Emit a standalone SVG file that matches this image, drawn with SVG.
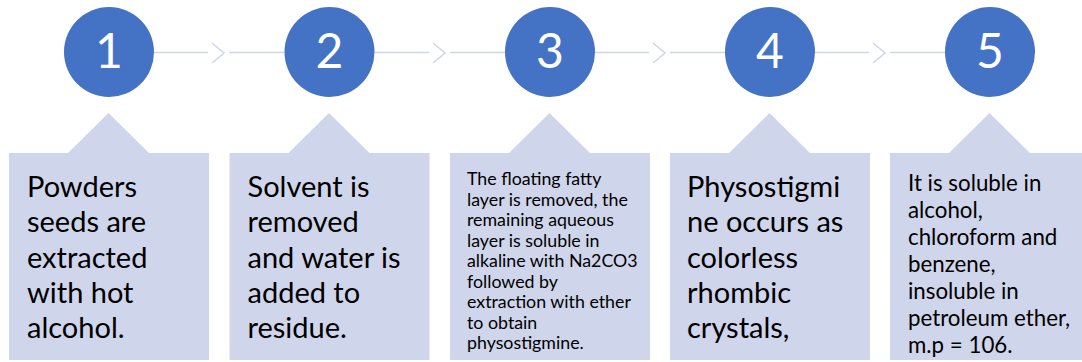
<svg xmlns="http://www.w3.org/2000/svg" width="1082" height="362" viewBox="0 0 1082 362">
  <style>
    .num { fill: #4472C4; }
    .digit { font-family: Lato, "Liberation Sans", sans-serif; font-size: 48px; fill: #ffffff; text-anchor: middle; }
    .card { fill: #CFD5EA; }
    .big { font-family: Lato, "Liberation Sans", sans-serif; font-size: 29px; fill: #000000; }
    .mid { font-family: Lato, "Liberation Sans", sans-serif; font-size: 22.3px; fill: #000000; }
    .small { font-family: Lato, "Liberation Sans", sans-serif; font-size: 17.8px; fill: #000000; }
    .link { stroke: #CFD5EA; stroke-width: 1.5; fill: none; }
  </style>
  <defs>
    <!-- callout card: pointer triangle on top of a 200-wide panel -->
    <path id="callout" d="M0,153 H59 L99.5,113 L140,153 H200 V360 H0 Z"/>
  </defs>

  <g id="connectors">
    <path class="link" d="M153.5,52.5 H208 M212,43 L224,53 L212,63 M229,52.5 H284.5"/>
    <path class="link" d="M374.5,52.5 H429 M433,43 L445,53 L433,63 M450,52.5 H505"/>
    <path class="link" d="M595,52.5 H649 M653,43 L665,53 L653,63 M670,52.5 H725"/>
    <path class="link" d="M815,52.5 H869 M873,43 L885,53 L873,63 M890,52.5 H945"/>
  </g>

  <g id="step1">
    <circle class="num" cx="109" cy="52" r="45"/>
    <text class="digit" x="109" y="68">1</text>
    <use href="#callout" class="card" x="9"/>
    <text class="big">
      <tspan x="27" y="197">Powders</tspan>
      <tspan x="27" y="232">seeds are</tspan>
      <tspan x="27" y="267.5">extracted</tspan>
      <tspan x="27" y="303">with hot</tspan>
      <tspan x="27" y="338">alcohol.</tspan>
    </text>
  </g>

  <g id="step2">
    <circle class="num" cx="329.5" cy="52" r="45"/>
    <text class="digit" x="329.5" y="68">2</text>
    <use href="#callout" class="card" x="229.5"/>
    <text class="big">
      <tspan x="247.5" y="197">Solvent is</tspan>
      <tspan x="247.5" y="232">removed</tspan>
      <tspan x="247.5" y="267.5">and water is</tspan>
      <tspan x="247.5" y="303">added to</tspan>
      <tspan x="247.5" y="338">residue.</tspan>
    </text>
  </g>

  <g id="step3">
    <circle class="num" cx="550" cy="52" r="45"/>
    <text class="digit" x="550" y="68">3</text>
    <use href="#callout" class="card" x="450"/>
    <text class="small">
      <tspan x="467" y="185">The floating fatty</tspan>
      <tspan x="467" y="205.5">layer is removed, the</tspan>
      <tspan x="467" y="226">remaining aqueous</tspan>
      <tspan x="467" y="246.5">layer is soluble in</tspan>
      <tspan x="467" y="267">alkaline with Na2CO3</tspan>
      <tspan x="467" y="287.5">followed by</tspan>
      <tspan x="467" y="308">extraction with ether</tspan>
      <tspan x="467" y="328.5">to obtain</tspan>
      <tspan x="467" y="349">physostigmine.</tspan>
    </text>
  </g>

  <g id="step4">
    <circle class="num" cx="770" cy="52" r="45"/>
    <text class="digit" x="770" y="68">4</text>
    <use href="#callout" class="card" x="670"/>
    <text class="big">
      <tspan x="687" y="197">Physostigmi</tspan>
      <tspan x="687" y="232">ne occurs as</tspan>
      <tspan x="687" y="267.5">colorless</tspan>
      <tspan x="687" y="303">rhombic</tspan>
      <tspan x="687" y="338">crystals,</tspan>
    </text>
  </g>

  <g id="step5">
    <circle class="num" cx="990" cy="52" r="45"/>
    <text class="digit" x="990" y="68">5</text>
    <use href="#callout" class="card" x="890"/>
    <text class="mid">
      <tspan x="908" y="191">It is soluble in</tspan>
      <tspan x="908" y="218">alcohol,</tspan>
      <tspan x="908" y="245">chloroform and</tspan>
      <tspan x="908" y="272">benzene,</tspan>
      <tspan x="908" y="299">insoluble in</tspan>
      <tspan x="908" y="326">petroleum ether,</tspan>
      <tspan x="908" y="353">m.p = 106.</tspan>
    </text>
  </g>
</svg>
